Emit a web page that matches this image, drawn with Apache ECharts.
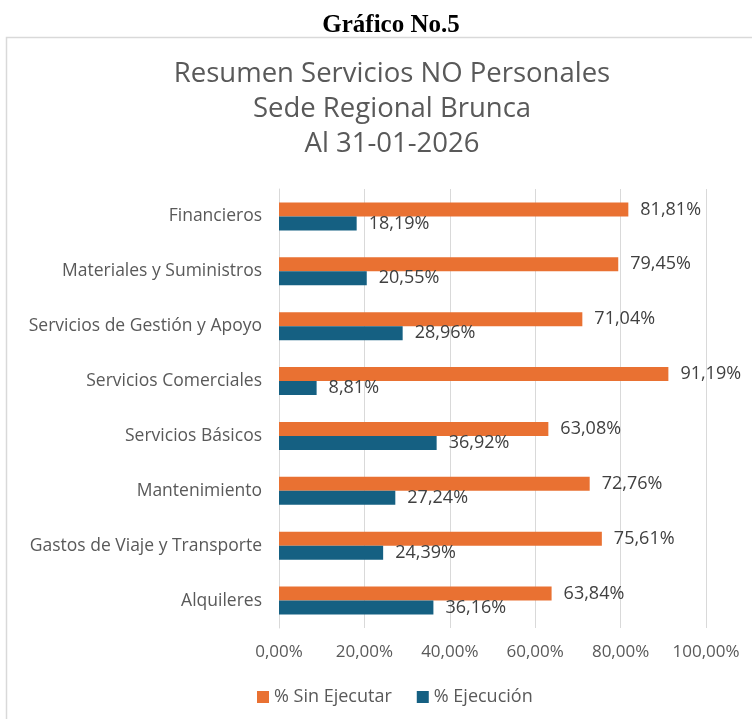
<!DOCTYPE html>
<html>
<head>
<meta charset="utf-8">
<script src="https://cdn.jsdelivr.net/npm/echarts@6/dist/echarts.min.js"></script>
<style>
  html, body { margin: 0; padding: 0; background: #fff; }
  #chart { width: 752px; height: 719px; }
</style>
</head>
<body>
<div id="chart"></div>
<script>
// categorias y porcentajes
const categorias = ['Financieros', 'Materiales y Suministros', 'Servicios de Gestión y Apoyo', 'Servicios Comerciales', 'Servicios Básicos', 'Mantenimiento', 'Gastos de Viaje y Transporte', 'Alquileres']
const sinEjecutar = [81.81, 79.45, 71.04, 91.19, 63.08, 72.76, 75.61, 63.84]
const ejecucion = [18.19, 20.55, 28.96, 8.81, 36.92, 27.24, 24.39, 36.16]
const ticks = [0, 20, 40, 60, 80, 100]

const font = '"Open Sans", Roboto, sans-serif'
const pct = v => v.toFixed(2).replace('.', ',') + '%'

const chart = echarts.init(document.getElementById('chart'))
chart.setOption({
  animation: false,
  title: [
    {
      text: 'Gráfico No.5',
      left: 386,
      textAlign: 'center',
      top: 8,
      textStyle: { fontFamily: '"Liberation Serif", serif', fontWeight: 'bold', fontSize: 25, color: '#000' }
    },
    {
      text: 'Resumen Servicios NO Personales\nSede Regional Brunca\nAl 31-01-2026',
      left: 387,
      textAlign: 'center',
      top: 52,
      textStyle: { fontFamily: font, fontWeight: 'normal', fontSize: 27.5, lineHeight: 35, color: '#595959' }
    }
  ],
  graphic: [{
    type: 'rect',
    shape: { x: 6.5, y: 37.5, width: 800, height: 720 },
    style: { fill: 'none', stroke: '#d9d9d9', lineWidth: 1.5 },
    z: -1
  }],
  legend: {
    data: ['% Sin Ejecutar', '% Ejecución'],
    left: 252,
    top: 683,
    itemWidth: 12,
    itemHeight: 12,
    itemGap: 25,
    icon: 'rect',
    textStyle: { fontFamily: font, fontSize: 18, color: '#595959' }
  },
  grid: { left: 279, right: 46, top: 189, bottom: 91 },
  xAxis: {
    type: 'value',
    min: 0,
    max: 100,
    interval: 20,
    axisLine: { show: false },
    axisTick: { show: false },
    splitLine: { lineStyle: { color: '#d9d9d9' } },
    axisLabel: {
      formatter: v => ticks.includes(v) ? pct(v) : '',
      margin: 16,
      fontFamily: font,
      fontSize: 17,
      color: '#595959'
    }
  },
  yAxis: {
    type: 'category',
    data: categorias,
    inverse: true,
    axisLine: { lineStyle: { color: '#d9d9d9' } },
    axisTick: { show: false },
    axisLabel: { margin: 17, fontFamily: font, fontSize: 17.5, color: '#595959' }
  },
  series: [
    {
      name: '% Sin Ejecutar',
      type: 'bar',
      data: sinEjecutar,
      barWidth: 14,
      barGap: '0%',
      itemStyle: { color: '#e97132' },
      label: {
        show: true,
        position: 'right',
        distance: 12,
        formatter: p => pct(p.value),
        fontFamily: font,
        fontSize: 18,
        color: '#404040'
      }
    },
    {
      name: '% Ejecución',
      type: 'bar',
      data: ejecucion,
      barWidth: 14,
      barGap: '0%',
      itemStyle: { color: '#156082' },
      label: {
        show: true,
        position: 'right',
        distance: 12,
        formatter: p => pct(p.value),
        fontFamily: font,
        fontSize: 18,
        color: '#404040'
      }
    }
  ]
})
</script>
</body>
</html>
